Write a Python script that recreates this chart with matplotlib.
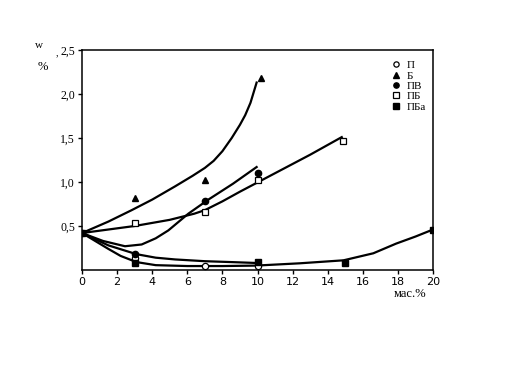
import matplotlib
matplotlib.use("Agg")
import matplotlib.pyplot as plt
from matplotlib.lines import Line2D

# ---- data ----
x_P = [0, 3, 7, 10]
y_P = [0.42, 0.14, 0.04, 0.045]
x_B = [3, 7, 10.2]
y_B = [0.82, 1.02, 2.18]
x_PV = [3, 7, 10]
y_PV = [0.18, 0.78, 1.10]
x_PB = [3, 7, 10, 14.85]
y_PB = [0.53, 0.655, 1.02, 1.47]
x_PBa = [0, 3, 10, 15, 20]
y_PBa = [0.42, 0.08, 0.09, 0.08, 0.46]

# fitted curves
fit_B_x = [0, 1.5, 2.83, 4, 5.3, 6.3, 7, 7.5, 8.0, 8.53, 9.0, 9.3, 9.6, 9.95]
fit_B_y = [0.42, 0.55, 0.68, 0.80, 0.95, 1.07, 1.16, 1.24, 1.35, 1.50, 1.65, 1.76, 1.90, 2.13]
fit_PV_x = [0, 1.2, 2.45, 3.4, 4.2, 4.92, 6.06, 7.2, 8.6, 9.95]
fit_PV_y = [0.42, 0.33, 0.27, 0.29, 0.36, 0.45, 0.64, 0.80, 0.98, 1.17]
fit_PB_x = [0, 3, 5, 6.4, 7, 8, 9, 11, 13, 14.8]
fit_PB_y = [0.42, 0.50, 0.57, 0.64, 0.68, 0.78, 0.89, 1.10, 1.31, 1.51]
fit_P_x = [0, 1.5, 3.1, 4.2, 5.3, 7, 8.5, 9.9]
fit_P_y = [0.42, 0.28, 0.18, 0.14, 0.12, 0.10, 0.09, 0.08]
fit_PBa_x = [0, 1, 1.5, 2.2, 3.1, 4.2, 6, 8, 9.9, 12.4, 14.9, 16.6, 17.9, 19, 20]
fit_PBa_y = [0.42, 0.30, 0.24, 0.16, 0.09, 0.055, 0.045, 0.045, 0.05, 0.076, 0.11, 0.19, 0.30, 0.38, 0.46]

labels = ["П", "Б", "ПВ", "ПБ", "ПБа"]
x_ticks = list(range(0, 21, 2))
y_ticks = [0.5, 1.0, 1.5, 2.0, 2.5]
y_tick_labels = ["0,5", "1,0", "1,5", "2,0", "2,5"]

W, H = 528, 384
fig = plt.figure(figsize=(W / 100, H / 100), dpi=100)
ax = fig.add_axes([82 / W, 1 - 270 / H, (433 - 82) / W, (270 - 50) / H])

lw = 1.6
for fx, fy in [(fit_B_x, fit_B_y), (fit_PV_x, fit_PV_y), (fit_PB_x, fit_PB_y),
               (fit_P_x, fit_P_y), (fit_PBa_x, fit_PBa_y)]:
    ax.plot(fx, fy, color="black", lw=lw, solid_joinstyle="round", zorder=2)

ms = 4.5
ax.plot(x_P, y_P, "o", ms=ms, mfc="white", mec="black", mew=0.9, zorder=3)
ax.plot(x_B, y_B, "^", ms=ms + 0.5, color="black", zorder=3)
ax.plot(x_PV, y_PV, "o", ms=ms, color="black", zorder=3)
ax.plot(x_PB, y_PB, "s", ms=ms, mfc="white", mec="black", mew=0.9, zorder=3)
ax.plot(x_PBa, y_PBa, "s", ms=ms, color="black", zorder=3)

ax.set_xlim(0, 20)
ax.set_ylim(0, 2.5)
ax.set_xticks(x_ticks)
ax.set_xticklabels([str(t) for t in x_ticks], fontsize=8, family="DejaVu Sans")
ax.set_yticks(y_ticks)
ax.set_yticklabels(y_tick_labels, fontsize=8.5, family="Liberation Serif")
ax.tick_params(axis="both", direction="out", length=3, width=1, pad=2)
for s in ax.spines.values():
    s.set_linewidth(1.1)

# legend
handles = [
    Line2D([], [], ls="none", marker="o", ms=3.8, mfc="white", mec="black", mew=0.9),
    Line2D([], [], ls="none", marker="^", ms=4.2, color="black"),
    Line2D([], [], ls="none", marker="o", ms=3.8, color="black"),
    Line2D([], [], ls="none", marker="s", ms=3.8, mfc="white", mec="black", mew=0.9),
    Line2D([], [], ls="none", marker="s", ms=3.8, color="black"),
]
fig.legend(handles, labels, loc="upper left", bbox_to_anchor=(386 / W, 1 - 55 / H),
           frameon=False, borderpad=0, handlelength=0.8, handletextpad=0.6,
           labelspacing=0.05, prop={"family": "Liberation Serif", "size": 8})

fig.text(39 / W, 1 - 46 / H, "w", fontsize=8, family="Liberation Serif", ha="center", va="center")
fig.text(57 / W, 1 - 53 / H, ",", fontsize=7, family="Liberation Serif", ha="center", va="center")
fig.text(43 / W, 1 - 67 / H, "%", fontsize=9, family="Liberation Serif", ha="center", va="center")
fig.text(410 / W, 1 - 294 / H, "мас.%", fontsize=9, family="Liberation Serif", ha="center", va="center")

fig.savefig("out.png", dpi=100, facecolor="white")
